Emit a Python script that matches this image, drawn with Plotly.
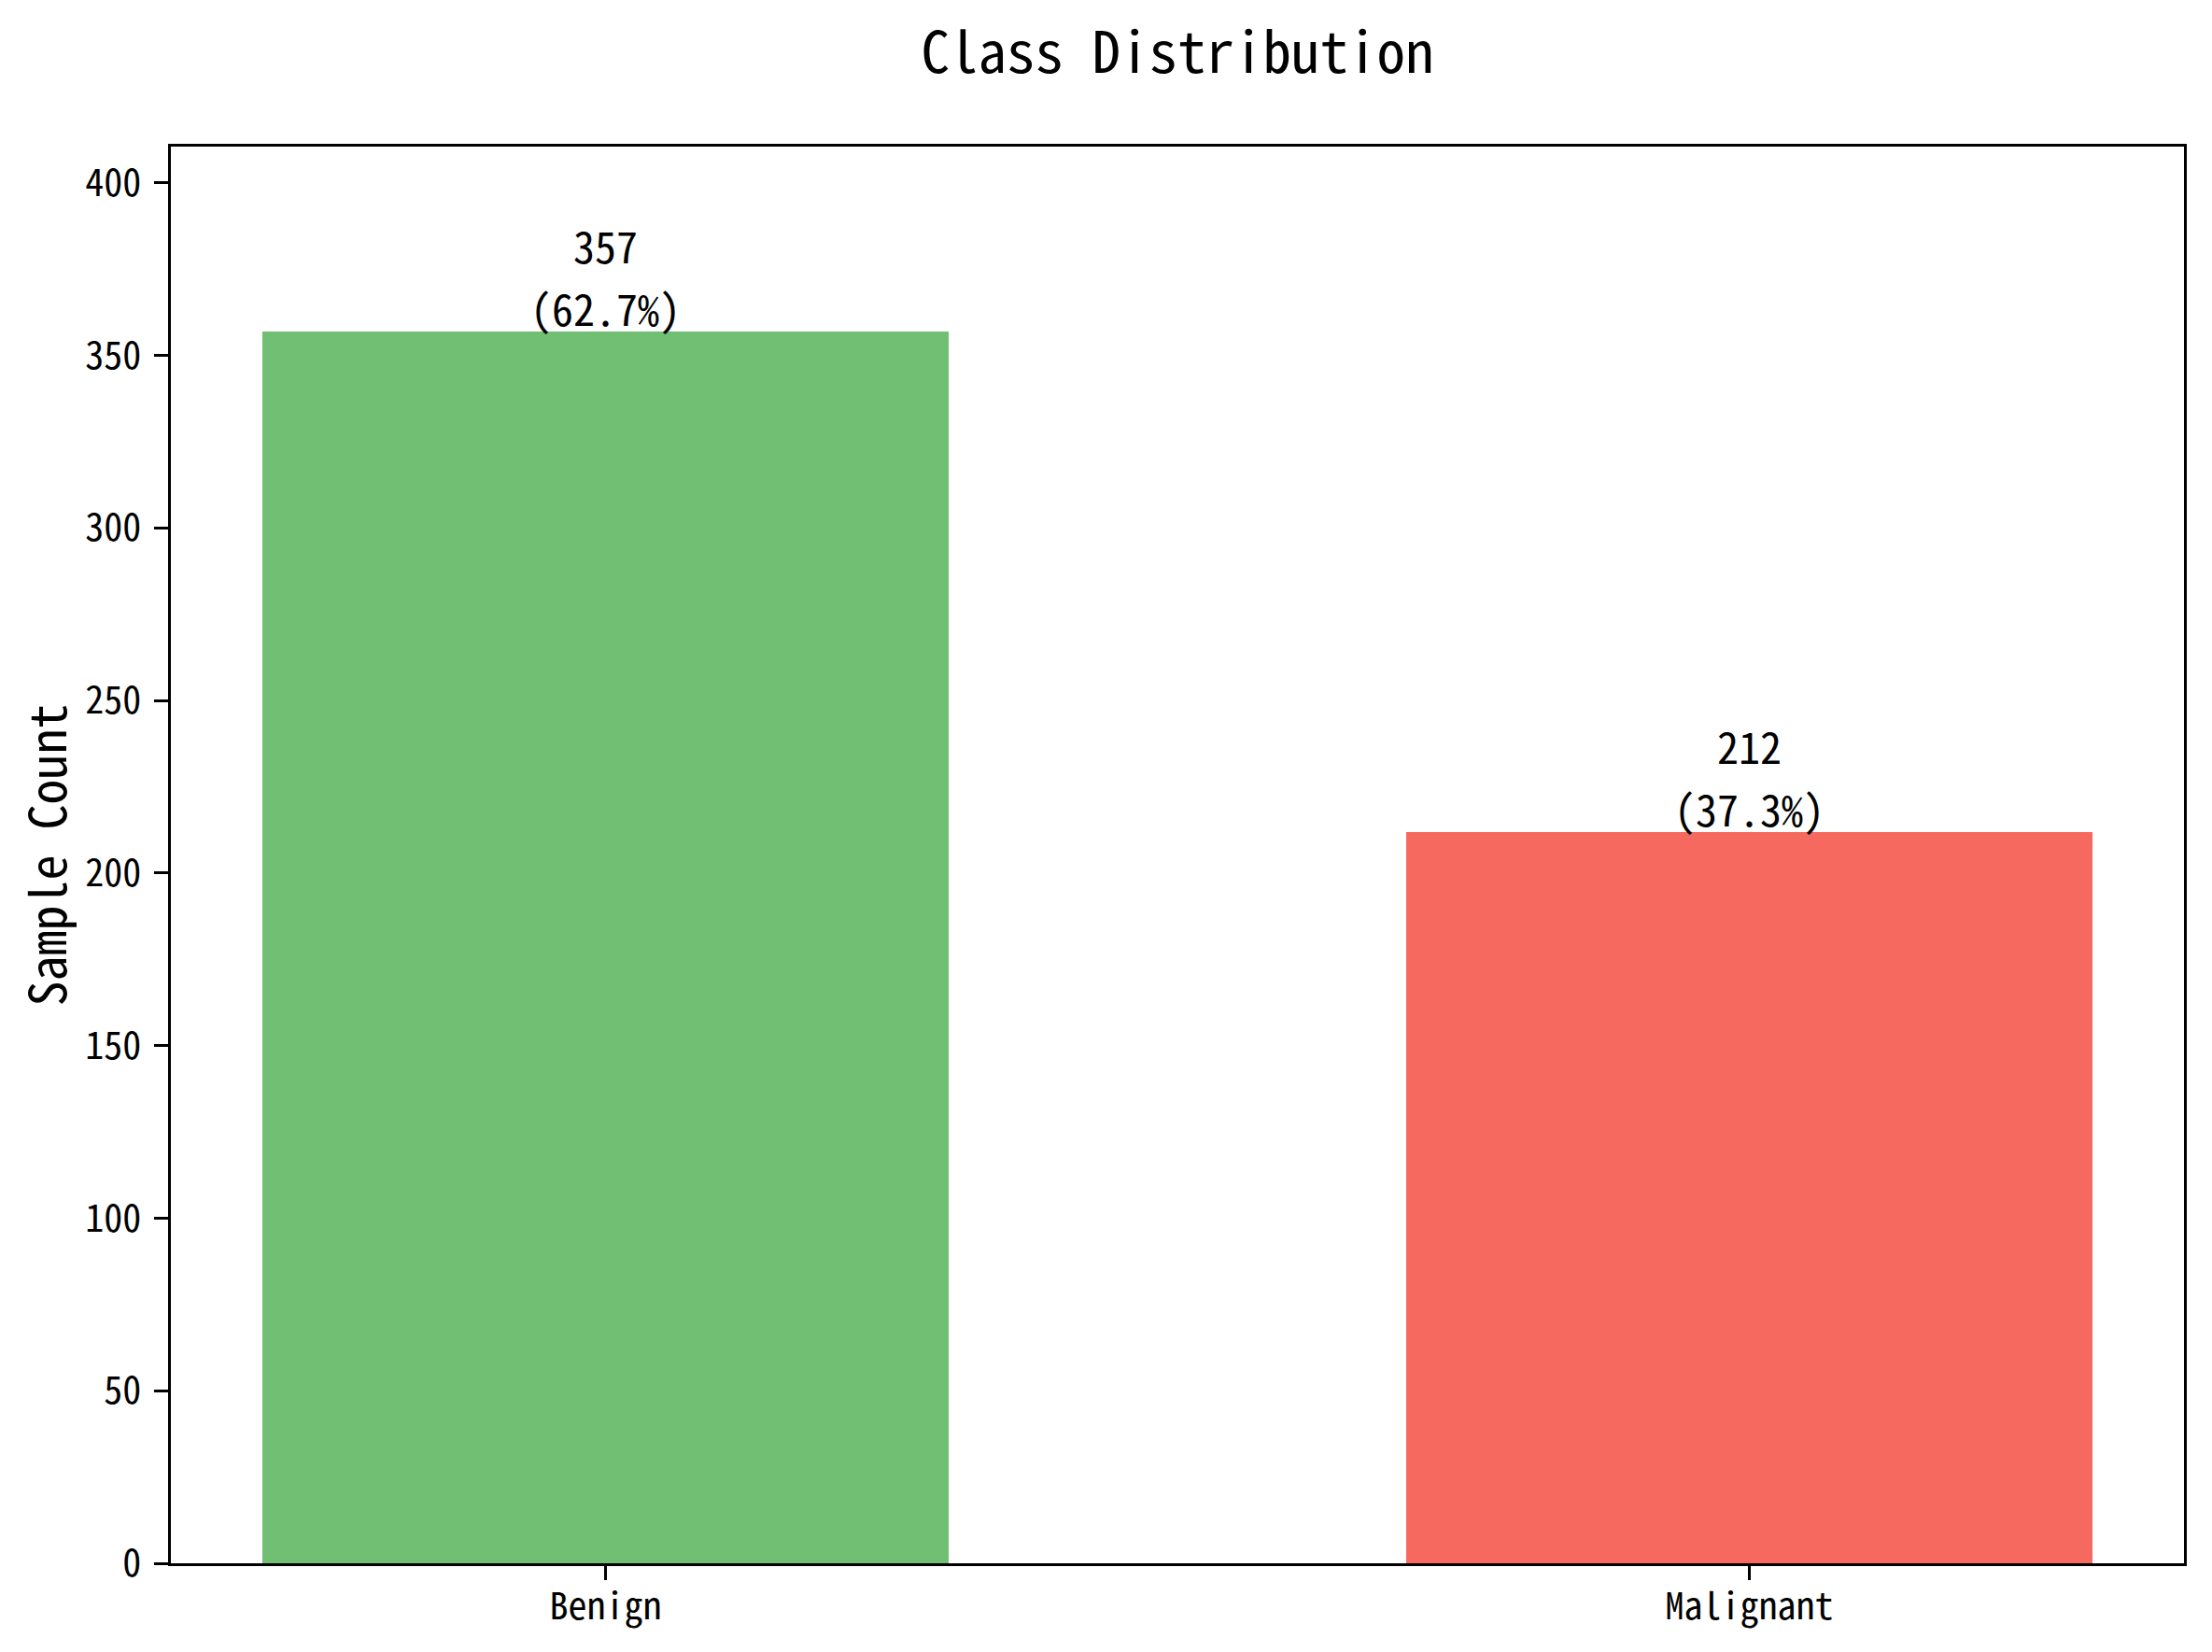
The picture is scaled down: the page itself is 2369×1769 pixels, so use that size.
import plotly.graph_objects as go

# class counts
classes = ["Benign", "Malignant"]
counts = [357, 212]
bar_colors = ["rgba(76, 175, 80, 0.8)", "rgba(244, 67, 54, 0.8)"]
y_ticks = [0, 50, 100, 150, 200, 250, 300, 350, 400]

total = sum(counts)
pct_labels = [f"({c / total * 100:.1f}%)" for c in counts]

FONT = "Noto Sans Mono CJK SC, Noto Sans CJK SC, DejaVu Sans Mono, monospace"

# the page body has an 8px margin, so the figure is drawn 8px smaller
# and shifted; left/top margins are trimmed by the same 8px
W, H = 2361, 1761

fig = go.Figure()
fig.add_trace(go.Bar(
    x=classes,
    y=counts,
    width=0.6,
    marker=dict(color=bar_colors, line=dict(width=0)),
    showlegend=False,
))

# value labels sitting on top of each bar: count above, share below
for cls, cnt, pct in zip(classes, counts, pct_labels):
    fig.add_annotation(
        x=cls, y=cnt, text=pct, showarrow=False,
        xanchor="center", yanchor="bottom", yshift=-9,
        font=dict(family=FONT, size=46, color="black"),
    )
    fig.add_annotation(
        x=cls, y=cnt, text=str(cnt), showarrow=False,
        xanchor="center", yanchor="bottom", yshift=58,
        font=dict(family=FONT, size=46, color="black"),
    )

fig.update_layout(
    width=W,
    height=H,
    margin=dict(l=175, r=30, t=149, b=95),
    paper_bgcolor="white",
    plot_bgcolor="white",
    font=dict(family=FONT, color="black"),
    bargap=0,
    title=dict(
        text="Class Distribution",
        x=0.5, xanchor="center", xref="paper",
        y=1 - 27 / H, yanchor="top", yref="container",
        font=dict(family=FONT, size=61, color="black"),
    ),
)

fig.update_xaxes(
    range=[-0.38, 1.38],
    showline=True, linecolor="black", linewidth=3.3, mirror=True,
    ticks="outside", ticklen=14.6, tickwidth=3.3, tickcolor="black",
    tickfont=dict(family=FONT, size=40),
    ticklabelstandoff=-6,
    showgrid=False, zeroline=False,
)
fig.update_yaxes(
    range=[0, max(counts) * 1.15],
    tickvals=y_ticks,
    showline=True, linecolor="black", linewidth=3.3, mirror=True,
    ticks="outside", ticklen=14.6, tickwidth=3.3, tickcolor="black",
    tickfont=dict(family=FONT, size=40),
    ticklabelstandoff=6,
    title=dict(text="Sample Count", font=dict(family=FONT, size=54), standoff=14),
    showgrid=False, zeroline=False,
)

fig.write_html("out.html")
